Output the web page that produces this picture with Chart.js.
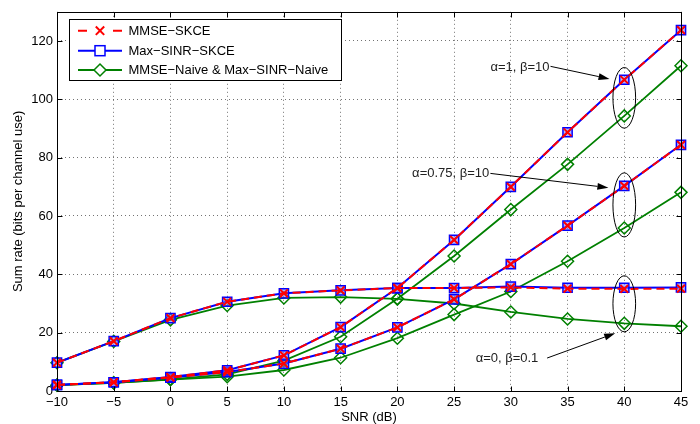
<!DOCTYPE html>
<html>
<head>
<meta charset="utf-8">
<style>
html, body { margin: 0; padding: 0; background: #fff; }
#wrap { width: 700px; height: 424px; }
</style>
<script src="https://cdn.jsdelivr.net/npm/chart.js"></script>
</head>
<body>
<div id="wrap"><canvas id="myChart" width="700" height="424"></canvas></div>
<script>
// SNR axis (dB)
const snr = [-10, -5, 0, 5, 10, 15, 20, 25, 30, 35, 40, 45];

// alpha=1, beta=10
const mmseSkceA1    = [2.1, 3.0, 4.8, 7.1, 12.2, 21.9, 35.3, 51.8, 70.0, 88.7, 106.7, 123.7];
const maxSinrSkceA1 = [2.1, 3.0, 4.8, 7.1, 12.2, 21.9, 35.3, 51.8, 70.0, 88.7, 106.7, 123.7];
const naiveA1       = [2.0, 2.8, 4.0, 5.7, 10.4, 18.6, 31.6, 46.3, 62.2, 77.7, 94.3, 111.5];

// alpha=0.75, beta=10
const mmseSkceA075    = [2.1, 3.0, 4.6, 6.5, 9.4, 14.5, 21.8, 31.4, 43.5, 56.7, 70.3, 84.4];
const maxSinrSkceA075 = [2.1, 3.0, 4.6, 6.5, 9.4, 14.5, 21.8, 31.4, 43.5, 56.7, 70.3, 84.4];
const naiveA075       = [2.0, 2.8, 3.9, 4.9, 7.2, 11.4, 18.1, 26.2, 34.1, 44.5, 55.9, 68.1];

// alpha=0, beta=0.1
const mmseSkceA0    = [9.7, 17.1, 25.0, 30.6, 33.5, 34.5, 35.3, 35.3, 35.5, 35.1, 35.0, 35.1];
const maxSinrSkceA0 = [9.7, 17.1, 25.0, 30.6, 33.5, 34.5, 35.3, 35.3, 35.8, 35.4, 35.4, 35.5];
const naiveA0       = [9.7, 17.0, 24.4, 29.3, 31.9, 32.2, 31.6, 30.0, 27.1, 24.7, 23.2, 22.2];

const xTickStep = 5;
const yTickStep = 20;
const seriesNames = ['MMSE\u2212SKCE', 'Max\u2212SINR\u2212SKCE', 'MMSE\u2212Naive & Max\u2212SINR\u2212Naive'];

// annotation labels, placed in data coordinates
const noteTexts = ['\u03b1=1, \u03b2=10', '\u03b1=0.75, \u03b2=10', '\u03b1=0, \u03b2=0.1'];
const notePos = [
    { tx: 28.2, ty: 111.0, ax0: 33.5, ay0: 111.3, ax1: 38.7, ay1: 107.0, ex: 40, ey: 100.5, erx: 1.0, ery: 10.4 },
    { tx: 21.3, ty: 74.5,  ax0: 28.2, ay0: 74.6,  ax1: 38.6, ay1: 69.7,  ex: 40, ey: 63.8,  erx: 1.0, ery: 11.0 },
    { tx: 26.9, ty: 11.3,  ax0: 33.2, ay0: 11.3,  ax1: 39.2, ay1: 19.8,  ex: 40, ey: 29.9,  erx: 1.0, ery: 9.6 }
];

const RED = '#ff0000', BLUE = '#0000ff', GREEN = '#008000';
const FONT = '"Liberation Sans", Arial, Helvetica, sans-serif';

function pts(arr) {
    return snr.map((x, i) => ({ x: x, y: arr[i] }));
}

function redSet(arr) {
    return {
        data: pts(arr), borderColor: RED, backgroundColor: RED, borderWidth: 2, borderDash: [8, 5],
        pointStyle: 'crossRot', pointRadius: 5.5, pointBorderWidth: 2, pointBorderColor: RED, clip: false
    };
}
function blueSet(arr) {
    return {
        data: pts(arr), borderColor: BLUE, borderWidth: 2,
        pointStyle: 'rect', pointRadius: 6.5, pointBorderWidth: 1.5, pointBorderColor: BLUE,
        pointBackgroundColor: 'rgba(120,120,255,0.55)', clip: false
    };
}
function greenSet(arr) {
    return {
        data: pts(arr), borderColor: GREEN, borderWidth: 1.8,
        pointStyle: 'rectRot', pointRadius: 6, pointBorderWidth: 1.5, pointBorderColor: GREEN,
        pointBackgroundColor: 'rgba(0,0,0,0)', clip: false
    };
}

function drawMarker(ctx, kind, x, y) {
    ctx.save();
    ctx.setLineDash([]);
    if (kind === 'x') {
        const s = 4.2;
        ctx.strokeStyle = RED; ctx.lineWidth = 2;
        ctx.beginPath();
        ctx.moveTo(x - s, y - s); ctx.lineTo(x + s, y + s);
        ctx.moveTo(x + s, y - s); ctx.lineTo(x - s, y + s);
        ctx.stroke();
    } else if (kind === 'sq') {
        ctx.strokeStyle = BLUE; ctx.lineWidth = 1.5;
        ctx.fillStyle = '#fff';
        ctx.fillRect(x - 5, y - 5, 10, 10);
        ctx.strokeRect(x - 5, y - 5, 10, 10);
    } else {
        ctx.strokeStyle = GREEN; ctx.lineWidth = 1.5;
        ctx.fillStyle = '#fff';
        ctx.beginPath();
        ctx.moveTo(x - 6, y); ctx.lineTo(x, y - 6); ctx.lineTo(x + 6, y); ctx.lineTo(x, y + 6);
        ctx.closePath();
        ctx.fill(); ctx.stroke();
    }
    ctx.restore();
}

function arrow(ctx, x0, y0, x1, y1) {
    const ang = Math.atan2(y1 - y0, x1 - x0);
    const L = 11, W = 3.5;
    const bx = x1 - L * Math.cos(ang), by = y1 - L * Math.sin(ang);
    ctx.beginPath();
    ctx.moveTo(x0, y0); ctx.lineTo(bx, by);
    ctx.stroke();
    ctx.beginPath();
    ctx.moveTo(x1, y1);
    ctx.lineTo(bx + W * Math.sin(ang), by - W * Math.cos(ang));
    ctx.lineTo(bx - W * Math.sin(ang), by + W * Math.cos(ang));
    ctx.closePath();
    ctx.fill();
}

const decor = {
    id: 'decor',
    afterDatasetsDraw(chart) {
        const ctx = chart.ctx;
        const a = chart.chartArea;
        const x = chart.scales.x, y = chart.scales.y;
        ctx.save();
        ctx.setLineDash([]);
        ctx.strokeStyle = '#000';
        ctx.fillStyle = '#000';
        ctx.lineWidth = 1;

        // box round the axes
        const L = Math.round(a.left) + 0.5, R = Math.round(a.right) + 0.5;
        const T = Math.round(a.top) + 0.5, B = Math.round(a.bottom) + 0.5;
        ctx.strokeRect(L, T, R - L, B - T);

        // inward tick marks on all four sides
        ctx.beginPath();
        x.ticks.forEach(t => {
            const px = Math.round(x.getPixelForValue(t.value)) + 0.5;
            ctx.moveTo(px, B); ctx.lineTo(px, B - 5);
            ctx.moveTo(px, T); ctx.lineTo(px, T + 5);
        });
        y.ticks.forEach(t => {
            const py = Math.round(y.getPixelForValue(t.value)) + 0.5;
            ctx.moveTo(L, py); ctx.lineTo(L + 5, py);
            ctx.moveTo(R, py); ctx.lineTo(R - 5, py);
        });
        ctx.stroke();

        // axis titles
        ctx.font = '13px ' + FONT;
        ctx.textAlign = 'center';
        ctx.textBaseline = 'middle';
        ctx.fillText('SNR (dB)', (a.left + a.right) / 2, 417);
        ctx.save();
        ctx.translate(18, (a.top + a.bottom) / 2);
        ctx.rotate(-Math.PI / 2);
        ctx.fillText('Sum rate (bits per channel use)', 0, 0);
        ctx.restore();

        // annotations: ellipses, arrows, labels
        ctx.textAlign = 'left';
        notePos.forEach((n, i) => {
            const cx = x.getPixelForValue(n.ex), cy = y.getPixelForValue(n.ey);
            const rx = Math.abs(x.getPixelForValue(n.ex + n.erx) - cx);
            const ry = Math.abs(y.getPixelForValue(n.ey + n.ery) - cy);
            ctx.beginPath();
            ctx.ellipse(cx, cy, rx, ry, 0, 0, Math.PI * 2);
            ctx.stroke();
            arrow(ctx, x.getPixelForValue(n.ax0), y.getPixelForValue(n.ay0),
                x.getPixelForValue(n.ax1), y.getPixelForValue(n.ay1));
            ctx.fillStyle = '#222';
            ctx.fillText(noteTexts[i], x.getPixelForValue(n.tx), y.getPixelForValue(n.ty));
            ctx.fillStyle = '#000';
        });

        // legend box
        const lx = 69.5, ly = 19.5, lw = 272, lh = 61;
        ctx.fillStyle = '#fff';
        ctx.fillRect(lx, ly, lw, lh);
        ctx.strokeRect(lx, ly, lw, lh);
        const rows = [30.7, 50.7, 70];
        const kinds = ['x', 'sq', 'dm'];
        const cols = [RED, BLUE, GREEN];
        rows.forEach((ry, i) => {
            ctx.save();
            ctx.strokeStyle = cols[i];
            ctx.lineWidth = 2;
            ctx.beginPath();
            if (i === 0) {
                ctx.moveTo(78, ry); ctx.lineTo(87, ry);
                ctx.moveTo(113, ry); ctx.lineTo(122, ry);
            } else {
                ctx.moveTo(78, ry); ctx.lineTo(122, ry);
            }
            ctx.stroke();
            ctx.restore();
            drawMarker(ctx, kinds[i], 100, ry);
            ctx.fillStyle = '#000';
            ctx.textBaseline = 'middle';
            ctx.fillText(seriesNames[i], 128.5, ry + 0.5);
        });
        ctx.restore();
    }
};

Chart.defaults.font.family = FONT;
Chart.defaults.font.size = 13;
Chart.defaults.color = '#000';

new Chart(document.getElementById('myChart'), {
    type: 'line',
    data: {
        datasets: [
            redSet(mmseSkceA1), redSet(mmseSkceA075), redSet(mmseSkceA0),
            blueSet(maxSinrSkceA1), blueSet(maxSinrSkceA075), blueSet(maxSinrSkceA0),
            greenSet(naiveA1), greenSet(naiveA075), greenSet(naiveA0)
        ]
    },
    options: {
        responsive: false,
        animation: false,
        layout: { padding: { top: 7, right: 19, left: 0, bottom: 0 } },
        elements: { line: { tension: 0 } },
        plugins: { legend: { display: false }, tooltip: { enabled: false } },
        scales: {
            x: {
                type: 'linear', min: -10, max: 45,
                afterFit: s => { s.height = 33; },
                ticks: {
                    stepSize: xTickStep, includeBounds: false, padding: 4, maxRotation: 0,
                    callback: v => String(v).replace('-', '\u2212')
                },
                grid: { drawTicks: false, color: 'rgba(0,0,0,0.55)', lineWidth: 1 },
                border: { display: false, dash: [1, 3] }
            },
            y: {
                type: 'linear', min: 0, max: 130,
                afterFit: s => { s.width = 57; },
                ticks: { stepSize: yTickStep, includeBounds: false, padding: 4 },
                grid: { drawTicks: false, color: 'rgba(0,0,0,0.55)', lineWidth: 1 },
                border: { display: false, dash: [1, 3] }
            }
        }
    },
    plugins: [decor]
});
</script>
</body>
</html>
